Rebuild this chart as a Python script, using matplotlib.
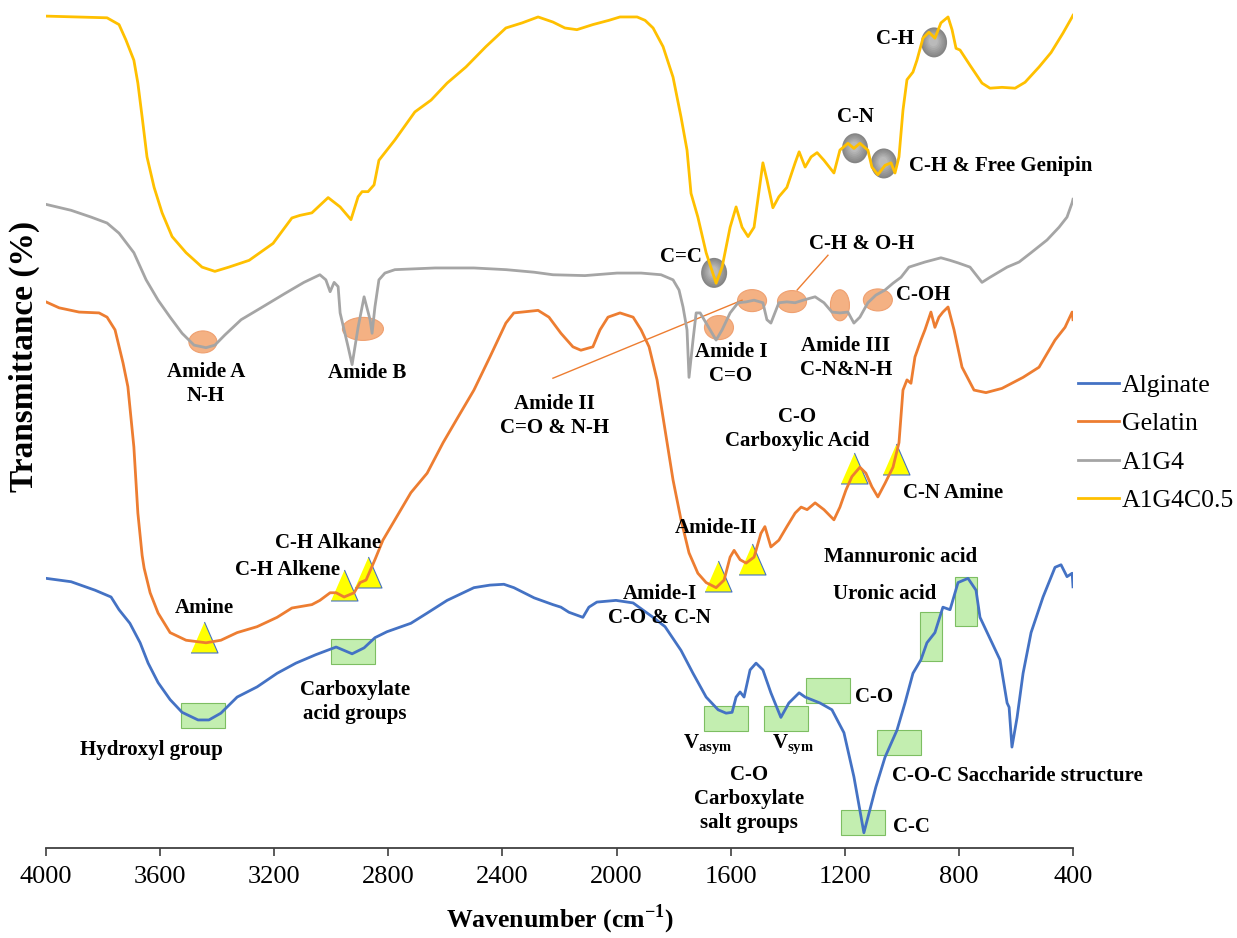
import numpy as np
import matplotlib.pyplot as plt
from matplotlib.patches import Ellipse, Rectangle

plt.rcParams['font.family'] = ['Liberation Serif', 'DejaVu Serif']
plt.rcParams['mathtext.fontset'] = 'custom'
plt.rcParams['mathtext.rm'] = 'Liberation Serif'
plt.rcParams['mathtext.bf'] = 'Liberation Serif:bold'

# FTIR spectra, wavenumber (cm-1) vs transmittance (stacked, arbitrary offset)
alg_wn = [4000, 3912, 3828, 3772, 3744, 3706, 3670, 3642, 3607, 3565, 3523, 3467, 3429,
          3387, 3330, 3260, 3190, 3124, 3054, 2983, 2927, 2885, 2847, 2805, 2721, 2664,
          2594, 2500, 2444, 2395, 2360, 2289, 2223, 2195, 2167, 2118, 2097, 2069, 2002,
          1942, 1872, 1830, 1774, 1732, 1686, 1644, 1616, 1595, 1581, 1567, 1553, 1532,
          1511, 1487, 1459, 1424, 1396, 1360, 1339, 1287, 1245, 1203, 1168, 1133, 1091,
          1059, 1017, 989, 961, 933, 912, 884, 856, 831, 803, 768, 740, 726, 705, 677,
          656, 631, 624, 614, 596, 575, 547, 505, 463, 442, 421, 403, 400]
alg_t = [31.8, 31.4, 30.4, 29.6, 28.1, 26.5, 24.2, 21.8, 19.5, 17.5, 16.0, 15.1, 15.1,
         15.9, 17.8, 19.0, 20.6, 21.8, 22.8, 23.7, 22.9, 23.6, 24.8, 25.5, 26.5, 27.7,
         29.2, 30.7, 31.0, 31.1, 30.7, 29.5, 28.7, 28.4, 27.8, 27.2, 28.4, 29.0, 29.2,
         28.9, 27.2, 26.1, 23.3, 20.6, 17.8, 16.3, 15.9, 16.0, 17.8, 18.4, 17.8, 21.0,
         21.8, 21.0, 18.3, 15.4, 17.1, 18.3, 17.8, 17.1, 16.3, 13.6, 8.4, 1.8, 7.2,
         10.7, 13.9, 17.1, 20.6, 22.2, 24.2, 25.4, 28.4, 28.1, 31.3, 31.8, 30.4, 27.2, 25.7, 23.7,
         22.2, 17.1, 16.6, 11.9, 15.4, 20.6, 25.4, 29.6, 33.1, 33.4, 32.0, 32.4, 30.8]

gel_wn = [4000, 3954, 3884, 3814, 3786, 3758, 3730, 3713, 3692, 3678, 3663, 3656, 3635,
          3607, 3565, 3509, 3439, 3387, 3330, 3260, 3190, 3138, 3068, 3040, 3004, 2983,
          2955, 2920, 2899, 2878, 2847, 2819, 2777, 2721, 2664, 2608, 2556, 2500, 2444,
          2388, 2360, 2331, 2275, 2237, 2195, 2153, 2125, 2083, 2058, 2030, 1988, 1942,
          1914, 1886, 1858, 1830, 1802, 1774, 1746, 1715, 1686, 1651, 1623, 1602, 1588,
          1567, 1546, 1518, 1494, 1480, 1459, 1431, 1403, 1374, 1353, 1332, 1304, 1273,
          1238, 1217, 1196, 1175, 1147, 1126, 1105, 1084, 1059, 1031, 1010, 996, 982,
          968, 954, 933, 919, 898, 884, 870, 856, 838, 817, 789, 747, 705, 649, 575,
          519, 463, 428, 403, 400]
gel_t = [64.4, 63.7, 63.2, 63.1, 62.6, 61.1, 57.2, 54.4, 47.3, 39.5, 34.5, 33.0, 30.1,
         27.7, 25.4, 24.5, 24.2, 24.5, 25.4, 26.1, 27.2, 28.3, 28.7, 29.2, 30.1, 30.1,
         29.6, 30.1, 31.3, 31.6, 34.0, 36.3, 38.7, 41.9, 44.2, 47.8, 50.8, 54.0, 57.9,
         61.9, 63.1, 63.2, 63.4, 62.6, 60.7, 59.1, 58.7, 59.1, 61.1, 62.6, 63.1, 62.6,
         61.1, 59.1, 55.2, 49.3, 43.4, 38.7, 34.8, 32.4, 31.3, 30.7, 31.6, 34.3, 35.1,
         34.0, 33.6, 34.3, 37.1, 37.9, 35.5, 36.3, 37.9, 39.5, 40.2, 39.9, 40.7, 39.9,
         38.7, 40.2, 42.2, 43.8, 44.9, 44.2, 42.6, 41.4, 43.0, 44.9, 47.8, 54.0, 55.2,
         54.8, 57.9, 59.9, 61.1, 63.2, 61.4, 62.6, 63.2, 63.8, 61.1, 56.7, 54.0, 53.7, 54.2, 55.5,
         56.7, 59.9, 61.4, 63.2, 62.3]

a1g4_wn = [4000, 3912, 3842, 3786, 3744, 3692, 3649, 3607, 3565, 3523, 3481, 3439, 3408,
           3373, 3316, 3246, 3162, 3096, 3040, 3019, 3004, 2990, 2976, 2969, 2941, 2927,
           2906, 2885, 2864, 2857, 2847, 2833, 2812, 2777, 2636, 2500, 2387, 2289, 2223,
           2111, 1998, 1914, 1844, 1802, 1781, 1767, 1753, 1746, 1732, 1721, 1707, 1686,
           1651, 1630, 1602, 1574, 1546, 1518, 1487, 1473, 1459, 1431, 1403, 1374, 1346,
           1304, 1273, 1245, 1217, 1189, 1168, 1147, 1119, 1091, 1059, 1031, 1003, 975,
           919, 863, 831, 803, 761, 733, 719, 691, 631, 589, 547, 491, 449, 428, 421, 403, 400]
a1g4_t = [75.9, 75.2, 74.4, 73.7, 72.5, 70.2, 67.0, 64.6, 62.6, 60.7, 59.3, 59.0, 59.3,
          60.5, 62.3, 63.7, 65.4, 66.7, 67.6, 67.0, 65.6, 66.7, 66.2, 63.1, 59.1, 57.0,
          61.4, 65.0, 62.3, 60.7, 63.8, 67.0, 67.8, 68.2, 68.4, 68.4, 68.2, 67.9, 67.6,
          67.5, 67.8, 67.8, 67.6, 67.0, 65.8, 63.8, 61.1, 55.5, 59.9, 63.1, 63.1, 61.9,
          59.9, 61.1, 63.1, 64.3, 64.4, 64.6, 64.3, 62.3, 61.9, 64.3, 64.4, 64.3, 64.6,
          65.0, 64.3, 63.2, 63.1, 63.2, 61.9, 62.6, 64.3, 65.2, 65.8, 66.6, 67.3, 68.5,
          69.1, 69.6, 69.3, 69.0, 68.5, 67.3, 66.7, 67.3, 68.5, 69.1, 70.2, 71.7, 73.2, 74.1, 74.4, 76.1, 76.5]

c05_wn = [4000, 3786, 3744, 3720, 3692, 3678, 3663, 3646, 3621, 3593, 3558, 3509, 3453,
          3408, 3359, 3288, 3204, 3138, 3110, 3068, 3011, 2969, 2931, 2906, 2892, 2871,
          2850, 2833, 2777, 2707, 2650, 2594, 2528, 2458, 2388, 2331, 2275, 2223, 2181,
          2139, 2083, 2027, 1988, 1928, 1900, 1872, 1837, 1802, 1774, 1753, 1739, 1715,
          1686, 1651, 1630, 1602, 1581, 1560, 1539, 1518, 1487, 1473, 1452, 1431, 1403,
          1374, 1360, 1339, 1318, 1297, 1273, 1238, 1217, 1189, 1168, 1147, 1119, 1105,
          1084, 1059, 1038, 1024, 1010, 996, 982, 961, 947, 926, 905, 884, 863, 838, 824,
          810, 796, 761, 719, 691, 649, 603, 568, 519, 477, 435, 403, 400]
c05_t = [98.1, 97.9, 97.1, 95.3, 92.9, 90.2, 86.2, 81.5, 77.9, 74.9, 72.1, 70.2, 68.5,
         68.0, 68.5, 69.3, 71.3, 74.3, 74.6, 74.9, 76.7, 75.6, 74.1, 76.8, 77.4, 77.4,
         78.2, 81.1, 83.5, 86.8, 88.2, 90.2, 92.1, 94.5, 96.7, 97.3, 98.0, 97.4, 96.7,
         96.5, 97.1, 97.6, 98.0, 98.0, 97.6, 96.7, 94.5, 90.9, 86.2, 82.3, 77.2, 74.4,
         70.2, 66.6, 68.5, 73.2, 75.6, 73.2, 72.1, 73.2, 80.8, 78.8, 75.5, 76.8, 77.9,
         80.8, 82.1, 80.3, 81.5, 82.0, 81.1, 79.6, 82.3, 83.1, 82.5, 83.1, 82.3, 80.3,
         79.4, 80.5, 80.8, 79.6, 81.5, 87.0, 90.6, 91.5, 92.9, 95.5, 96.2, 95.5, 97.3, 98.0, 96.5,
         94.3, 94.1, 92.3, 90.2, 89.6, 89.7, 89.6, 90.3, 92.1, 93.8, 96.1, 98.0, 98.2]

names = ['Alginate', 'Gelatin', 'A1G4', 'A1G4C0.5']
colors = ['#4472C4', '#ED7D31', '#A5A5A5', '#FFC000']

# assigned bands (cm-1) marked on each spectrum
alg_bands = [3450, 2924, 1616, 1406, 1259, 1010, 1136, 898, 775]
gel_bands = [3446, 2955, 2871, 1644, 1525, 1168, 1020]
a1g4_bands = [3450, 2889, 1641, 1525, 1385, 1217, 1084]
c05_bands = [1658, 1164, 1063, 887]

# marker offsets from the curve and sizes (px)
alg_dy = [0.5, 0.2, -0.6, -1.2, 2.0, -2.3, 0.7, 0.1, -2.6]
alg_box = [(44, 25)] * 7 + [(22, 49), (22, 49)]
gel_dy = [0.7, 1.4, 0.4, 1.1, 0.0, 0.7, -0.6]
a1g4_dy = [0.6, -3.1, 0.9, 0.0, 0.1, 0.9, -0.7]
a1g4_ell = [(28, 22), (41, 23), (29, 24), (29, 22), (29, 22), (19, 31), (29, 22)]
c05_dy = [0.5, -0.1, 0.4, -0.6]

W, H = 1237, 938
X0, X1, YAX = 46, 1073, 848
PX_WN = 3600 / (X1 - X0)   # cm-1 per pixel
PX_T = 100 / YAX           # transmittance units per pixel

fig = plt.figure(figsize=(W / 100, H / 100), dpi=100)
ax = fig.add_axes([X0 / W, (H - YAX) / H, (X1 - X0) / W, YAX / H])


def at(band, wn, t):
    return np.interp(band, wn[::-1], t[::-1])


# green boxes on alginate
for b, dy, (w, h) in zip(alg_bands, alg_dy, alg_box):
    yc = at(b, alg_wn, alg_t) + dy
    ax.add_patch(Rectangle((b - w * PX_WN / 2, yc - h * PX_T / 2), w * PX_WN, h * PX_T,
                           facecolor='#C3EEB0', edgecolor='#7DBE62', lw=0.8, zorder=1))

# yellow triangles on gelatin
tri = [(-27 / 31, -1), (27 / 31, -1), (0, 1)]
for b, dy in zip(gel_bands, gel_dy):
    ax.plot(b, at(b, gel_wn, gel_t) + dy, marker=tri, ms=22.3, mfc='#FFFF00',
            mec='#4472C4', mew=0.8, zorder=1)

# orange ellipses on A1G4
for b, dy, (w, h) in zip(a1g4_bands, a1g4_dy, a1g4_ell):
    ax.add_patch(Ellipse((b, at(b, a1g4_wn, a1g4_t) + dy), w * PX_WN, h * PX_T,
                         facecolor='#F4B183', edgecolor='#EFA070', lw=0.8, zorder=1))

# shaded gray dots on A1G4C0.5
for b, dy in zip(c05_bands, c05_dy):
    yc = at(b, c05_wn, c05_t) + dy
    for k, s in enumerate(np.linspace(1.0, 0.35, 7)):
        g = 0.52 + 0.035 * k
        ax.add_patch(Ellipse((b + 4 * (1 - s), yc + 0.25 * (1 - s)), 26 * PX_WN * s, 30 * PX_T * s,
                             facecolor=(g, g, g), edgecolor='none', zorder=1))

for wn, t, name, c in zip([alg_wn, gel_wn, a1g4_wn, c05_wn], [alg_t, gel_t, a1g4_t, c05_t],
                          names, colors):
    ax.plot(wn, t, color=c, lw=2, label=name, zorder=3)

# pointer lines
ax.plot([2223, 1560], [55.4, 64.6], color='#ED7D31', lw=1, zorder=2)
ax.plot([1259, 1367], [69.9, 65.8], color='#ED7D31', lw=1, zorder=2)

labels = [
    ('Amide A\nN-H', 3439, 54.7, 'center'),
    ('Amide B', 2875, 56.0, 'center'),
    ('Amide II\nC=O & N-H', 2219, 50.9, 'center'),
    ('Amide I\nC=O', 1599, 57.1, 'center'),
    ('Amide III\nC-N&N-H', 1196, 57.8, 'center'),
    ('C-OH', 1020, 65.2, 'left'),
    ('C-H & O-H', 1140, 71.2, 'center'),
    ('C=C', 1774, 69.7, 'center'),
    ('C-N', 1164, 86.2, 'center'),
    ('C-H & Free Genipin', 975, 80.4, 'left'),
    ('C-H', 1024, 95.4, 'center'),
    ('Amine', 3446, 28.3, 'center'),
    ('C-H Alkane', 3011, 36.0, 'center'),
    ('C-H Alkene', 3155, 32.8, 'center'),
    ('Amide-I\nC-O & C-N', 1848, 28.5, 'center'),
    ('Amide-II', 1651, 37.7, 'center'),
    ('C-O\nCarboxylic Acid', 1367, 49.4, 'center'),
    ('C-N Amine', 821, 41.9, 'center'),
    ('Mannuronic acid', 1006, 34.3, 'center'),
    ('Uronic acid', 1059, 30.0, 'center'),
    ('Hydroxyl group', 3632, 11.6, 'center'),
    ('Carboxylate\nacid groups', 2917, 17.2, 'center'),
    (r'V$_{\mathbf{asym}}$', 1679, 12.1, 'center'),
    (r'V$_{\mathbf{sym}}$', 1381, 12.1, 'center'),
    ('C-O\nCarboxylate\nsalt groups', 1536, 5.8, 'center'),
    ('C-O', 1164, 17.8, 'left'),
    ('C-O-C Saccharide structure', 1034, 8.5, 'left'),
    ('C-C', 1031, 2.5, 'left'),
]
for txt, x, y, ha in labels:
    ax.text(x, y, txt, ha=ha, va='center', fontsize=15, fontweight='bold',
            linespacing=1.25, multialignment='center', zorder=4)

ax.set_xlim(4000, 400)
ax.set_ylim(0, 100)
ax.set_xticks(np.arange(4000, 399, -400))
ax.set_yticks([])
for s in ['left', 'right', 'top']:
    ax.spines[s].set_visible(False)
ax.spines['bottom'].set_color('#404040')
ax.spines['bottom'].set_linewidth(1.3)
ax.tick_params(axis='x', direction='out', length=6, width=1.2, color='#404040',
               labelsize=19, pad=7)
ax.set_xlabel(r'Wavenumber (cm$^{\mathbf{-1}}$)', fontsize=18.5, fontweight='bold')
ax.xaxis.set_label_coords(0.5, -0.064)
ax.set_ylabel('Transmittance (%)', fontsize=24, fontweight='bold')
ax.yaxis.set_label_coords(-0.006, 0.58)

fig.legend(loc='upper left', bbox_to_anchor=(1078 / W, 1 - 374 / H), frameon=False,
           fontsize=18.5, handlelength=1.6, handletextpad=0.1, labelspacing=0.6,
           borderpad=0, borderaxespad=0)

fig.savefig('out.png', dpi=100)
